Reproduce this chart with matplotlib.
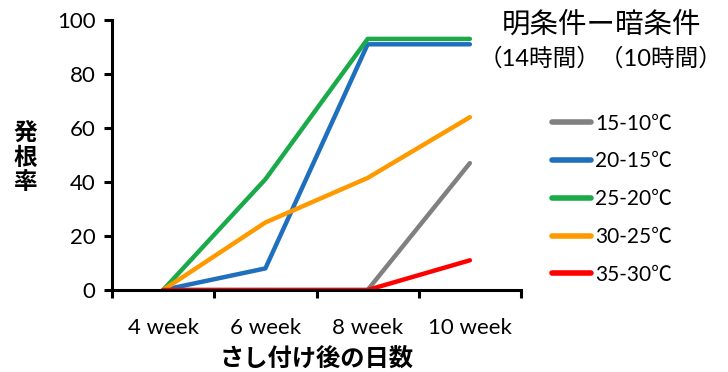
import matplotlib
matplotlib.use("Agg")
import matplotlib.pyplot as plt
import numpy as np

plt.rcParams['font.family'] = ['Lato', 'Noto Sans CJK JP', 'DejaVu Sans']

weeks = ['4 week', '6 week', '8 week', '10 week']
labels = ['15-10℃', '20-15℃', '25-20℃', '30-25℃', '35-30℃']
colors = ['#808080', '#1f6fbf', '#1aaa4a', '#ff9900', '#ff0000']
rate_15_10 = [0, 0, 0, 47]
rate_20_15 = [0, 8, 91, 91]
rate_25_20 = [0, 41, 93, 93]
rate_30_25 = [0, 25, 41.5, 64]
rate_35_30 = [0, 0, 0, 11]
series = [rate_15_10, rate_20_15, rate_25_20, rate_30_25, rate_35_30]

fig = plt.figure(figsize=(7.28, 3.72), dpi=100)
ax = fig.add_axes([112/728, 1-290/372, (521-112)/728, 270/372])

x = np.arange(len(weeks))
for vals, lab, c in zip(series, labels, colors):
    ax.plot(x, vals, color=c, lw=3.2, label=lab, solid_capstyle='round')

ax.set_xlim(-0.5, 3.5)
ax.set_ylim(0, 100)
ax.set_yticks([0, 20, 40, 60, 80, 100])
ax.set_xticks(np.arange(-0.5, 4, 1))
ax.set_xticklabels([])
ax.set_xticks(x, minor=True)
ax.set_xticklabels(weeks, minor=True)
ax.tick_params(axis='x', which='minor', length=0, pad=20, labelsize=16)
ax.tick_params(axis='x', which='major', length=6, width=2.2, direction='out')
ax.tick_params(axis='y', length=6, width=2.2, direction='out', labelsize=16, pad=6)
for s in ['top', 'right']:
    ax.spines[s].set_visible(False)
for s in ['left', 'bottom']:
    ax.spines[s].set_linewidth(2.2)

ax.set_xlabel('さし付け後の日数', fontsize=17.5, fontweight='bold', labelpad=6)
fig.text(25/728, 1-157/372, '発\n根\n率', fontsize=17, fontweight='bold',
         ha='center', va='center', linespacing=1.1)

fig.text(602/728, 1-25/372, '明条件ー暗条件', fontsize=20.5,
         ha='center', va='center')
fig.text(601/728, 1-58/372, '（14時間）（10時間）', fontsize=17,
         ha='center', va='center')

leg = ax.legend(loc='upper left', bbox_to_anchor=(533/728, 1-95/372),
                bbox_transform=fig.transFigure, frameon=False, fontsize=15,
                handlelength=1.9, handletextpad=0.2, labelspacing=0.85)
for h in leg.get_lines():
    h.set_linewidth(4)

fig.savefig('out.png', dpi=100)
